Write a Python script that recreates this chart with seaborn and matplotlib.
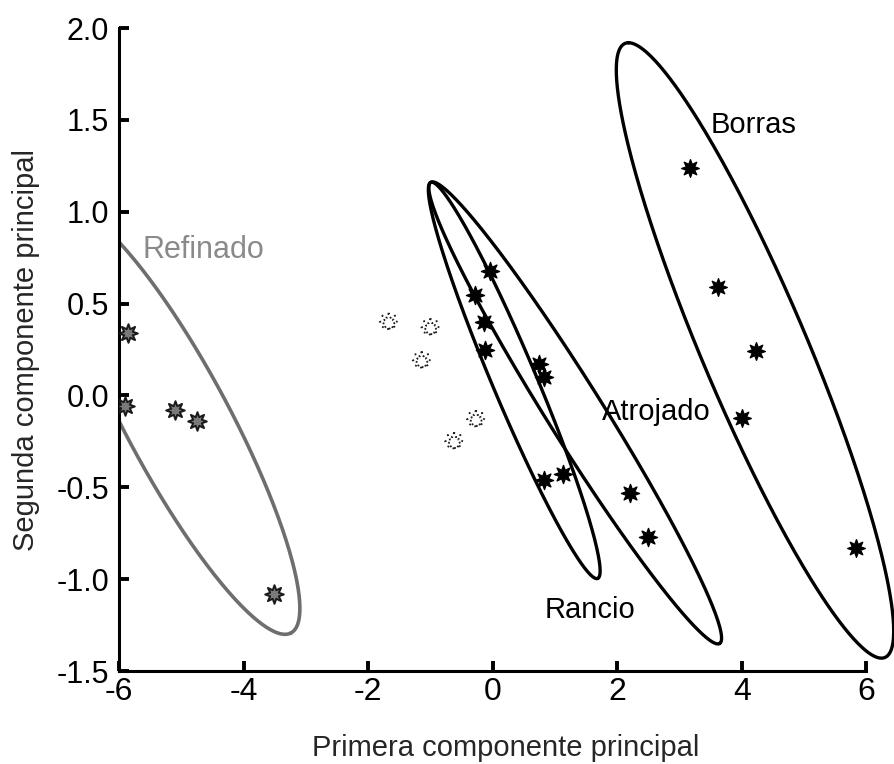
import numpy as np
import pandas as pd
import matplotlib
matplotlib.use("Agg")
import matplotlib.pyplot as plt
import seaborn as sns

# --- datos ---
refinado_x = [-5.86, -5.90, -5.10, -4.75, -3.51]
refinado_y = [0.34, -0.06, -0.08, -0.14, -1.08]

claro_x = [-1.67, -1.00, -1.14, -0.27, -0.62]
claro_y = [0.40, 0.37, 0.19, -0.13, -0.25]

medio_x = [-0.05, -0.28, -0.14, -0.12, 0.75, 0.82, 0.83, 1.12, 2.20, 2.50]
medio_y = [0.68, 0.545, 0.40, 0.245, 0.17, 0.10, -0.46, -0.43, -0.53, -0.77]

borras_x = [3.16, 3.62, 4.22, 4.00, 5.83]
borras_y = [1.24, 0.59, 0.24, -0.12, -0.83]

# elipses: centro, semidiametros conjugados A y B (unidades de datos)
elipse_nombres = ["Refinado", "Rancio", "Atrojado", "Borras"]
elipse_centro = [(-5.06, -0.14), (0.345, 0.082), (1.324, -0.095), (4.21, 0.245)]
elipse_a = [(1.819, -1.153), (1.340, -1.078), (2.319, -1.255), (-2.03, 1.675)]
elipse_b = [(-0.74, -0.13), (-0.325, -0.047), (-0.38, -0.08), (0.915, 0.0)]

etiquetas = ["Refinado", "Borras", "Atrojado", "Rancio"]
etiqueta_x = [-4.65, 4.18, 2.62, 1.56]
etiqueta_y = [0.79, 1.47, -0.09, -1.17]

sns.set_style("ticks")
plt.rcParams["font.family"] = ["Liberation Sans", "DejaVu Sans"]
plt.rcParams["axes.unicode_minus"] = False

fig = plt.figure(figsize=(8.94, 7.64), dpi=100)
ax = fig.add_axes([0.1331, 0.1217, 0.864, 0.8416])

marker = (8, 1, 0)
df_ref = pd.DataFrame({"x": refinado_x, "y": refinado_y})
df_cla = pd.DataFrame({"x": claro_x, "y": claro_y})
df_med = pd.DataFrame({"x": medio_x, "y": medio_y})
df_bor = pd.DataFrame({"x": borras_x, "y": borras_y})

sns.scatterplot(data=df_ref, x="x", y="y", ax=ax, marker=marker, s=180,
                color="#7a7a7a", edgecolor="#1a1a1a", linewidth=1.4, zorder=3)
sns.scatterplot(data=df_cla, x="x", y="y", ax=ax, marker=marker, s=170,
                color="white", edgecolor="#202020", linewidth=1.3,
                linestyle=":", zorder=3)
sns.scatterplot(data=df_med, x="x", y="y", ax=ax, marker=marker, s=170,
                color="black", edgecolor="black", linewidth=1.0, zorder=3)
sns.scatterplot(data=df_bor, x="x", y="y", ax=ax, marker=marker, s=160,
                color="black", edgecolor="black", linewidth=1.0, zorder=3)

t = np.linspace(0, 2 * np.pi, 400)
for nombre, c, a, b in zip(elipse_nombres, elipse_centro, elipse_a, elipse_b):
    ex = c[0] + np.cos(t) * a[0] + np.sin(t) * b[0]
    ey = c[1] + np.cos(t) * a[1] + np.sin(t) * b[1]
    if nombre == "Refinado":
        ax.plot(ex, ey, color="#6e6e6e", lw=2.6, zorder=2)
    else:
        ax.plot(ex, ey, color="black", lw=2.4, zorder=2, clip_on=False)

for txt, x, y in zip(etiquetas, etiqueta_x, etiqueta_y):
    col = "#8a8a8a" if txt == "Refinado" else "black"
    fs = 22 if txt == "Refinado" else 21
    ax.text(x, y, txt, ha="center", va="center", fontsize=fs, color=col)

ax.set_xlim(-6, 6.4)
ax.set_ylim(-1.5, 2.0)
ax.set_xticks([-6, -4, -2, 0, 2, 4, 6])
ax.set_yticks([-1.5, -1.0, -0.5, 0.0, 0.5, 1.0, 1.5, 2.0])
ax.set_yticklabels([f"{v:.1f}" for v in [-1.5, -1.0, -0.5, 0.0, 0.5, 1.0, 1.5, 2.0]])
ax.spines["right"].set_visible(False)
ax.spines["top"].set_visible(False)
ax.spines["bottom"].set_bounds(-6, 6)
for sp in ["left", "bottom"]:
    ax.spines[sp].set_linewidth(2.2)
    ax.spines[sp].set_color("black")
ax.tick_params(axis="both", direction="in", length=7, width=2.8, colors="black")
ax.tick_params(axis="y", labelsize=22, pad=7)
ax.tick_params(axis="x", labelsize=23, pad=4)

ax.set_xlabel("Primera componente principal", fontsize=21, labelpad=20)
ax.set_ylabel("Segunda componente principal", fontsize=21, labelpad=12)

fig.savefig("out.png", dpi=100)
